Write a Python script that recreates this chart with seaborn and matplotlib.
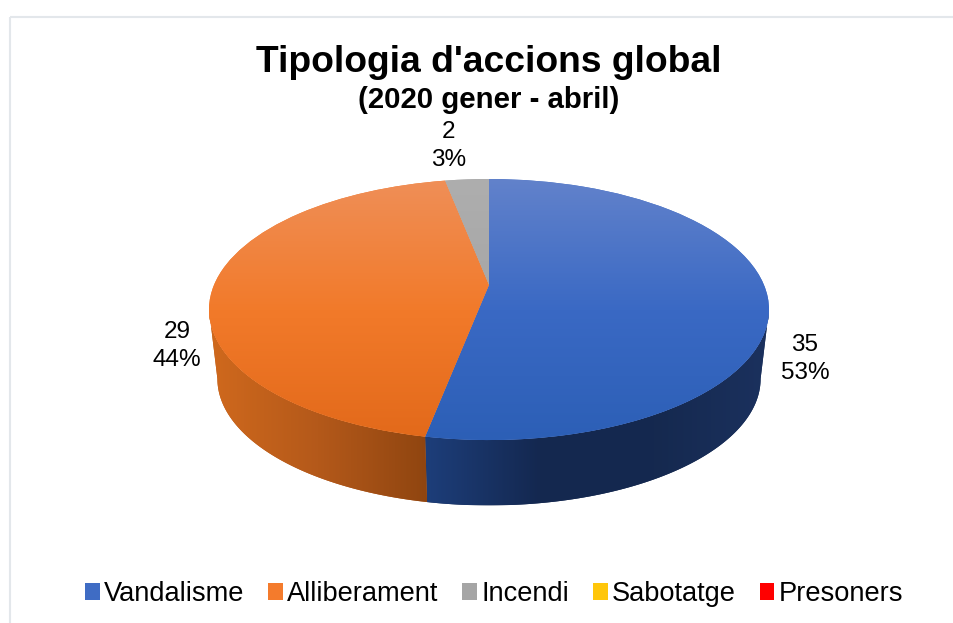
import numpy as np
import matplotlib
matplotlib.use("Agg")
import matplotlib.pyplot as plt
import seaborn as sns
from matplotlib.colors import LinearSegmentedColormap
from matplotlib.patches import Patch, Polygon, Rectangle
from matplotlib.transforms import Transform

# --- data ---
categories = ["Vandalisme", "Alliberament", "Incendi", "Sabotatge", "Presoners"]
values = [35, 29, 2, 0, 0]
colors = ["#3f6cc4", "#f47b2c", "#a5a5a5", "#ffc60a", "#ff0000"]
title = "Tipologia d'accions global"
subtitle = "(2020 gener - abril)"

# vertical shading on the top face, horizontal on the side
top_shades = [
    ["#6282cb", "#3a69c4", "#2c5fb6"],
    ["#ef8f58", "#f27a2a", "#e2691a"],
    ["#aeaeae", "#a6a6a6", "#a0a0a0"],
]
side_shades = [
    ["#1d3e7a", "#142850", "#15294f", "#1b315e"],
    ["#d0691d", "#b4591a", "#8f4510"],
]
label_pos = {0: (805, 359), 1: (177, 346), 2: (449, 146)}

sns.set_theme(style="white")
plt.rcParams["font.family"] = ["Liberation Sans", "DejaVu Sans"]

# perspective of the tilted disc, in picture pixels
APEX = (489, 285)
K = 0.188
A = 125.9
C = 275.0
SHRINK = 0.97
DEPTH = 70


def project(X, Y, bottom=False):
    w = 1 + K * Y
    x = C * X / w
    y = -A * Y / w
    if bottom:
        x = x * SHRINK
        y = y * SHRINK + DEPTH
    return APEX[0] + x, APEX[1] + y


class Tilt(Transform):
    input_dims = 2
    output_dims = 2

    def transform_non_affine(self, values):
        x, y = project(values[:, 0], values[:, 1])
        return np.column_stack([x, y])


fig = plt.figure(figsize=(9.54, 6.23), dpi=100)
ax = fig.add_axes([0, 0, 1, 1])

wedges, _ = ax.pie(values, colors=colors, startangle=90, counterclock=False,
                   wedgeprops={"linewidth": 0})
ax.set_aspect("auto")
ax.set_xlim(0, 954)
ax.set_ylim(623, 0)
ax.axis("off")

tilt = Tilt() + ax.transData
for w in wedges:
    w.set_transform(tilt)
    w.set_zorder(3)

# silhouette of the disc: widest row of the projected ellipse
edge_y = (A / (1 - K) - A / (1 + K)) / 2
Y_edge = -edge_y / (A + K * edge_y)
theta_edge = np.degrees(np.arccos(Y_edge))
front = (theta_edge, 360 - theta_edge)

# --- side wall ---
stops = np.cumsum([0] + values) / sum(values) * 360
for i, shades in enumerate(side_shades):
    a1 = max(stops[i], front[0])
    a2 = min(stops[i + 1], front[1])
    th = np.radians(np.linspace(a1, a2, 200))
    x1, y1 = project(np.sin(th), np.cos(th))
    x2, y2 = project(np.sin(th), np.cos(th), bottom=True)
    pts = np.column_stack([np.r_[x1, x2[::-1]], np.r_[y1, y2[::-1]]])
    poly = Polygon(pts, closed=True, transform=ax.transData, fc=shades[1], ec="none", zorder=2)
    ax.add_patch(poly)
    left, right = pts[:, 0].min(), pts[:, 0].max()
    cmap = LinearSegmentedColormap.from_list("side", shades)
    # shading runs towards the dark side of the disc
    grad = np.linspace(0, 1, 256).reshape(1, -1)
    im = ax.imshow(grad, cmap=cmap, extent=(left, right, pts[:, 1].max(), pts[:, 1].min()),
                   aspect="auto", zorder=2.5)
    im.set_clip_path(poly)

# --- top face ---
for w, shades in zip(wedges, top_shades):
    cmap = LinearSegmentedColormap.from_list("top", shades)
    grad = np.linspace(0, 1, 256).reshape(-1, 1)
    im = ax.imshow(grad, cmap=cmap, extent=(200, 780, 442, 178), aspect="auto", zorder=4)
    im.set_clip_path(w)

ax.set_xlim(0, 954)
ax.set_ylim(623, 0)

# --- outer frame of the chart ---
ax.add_patch(Rectangle((10, 17), 1000, 700, fill=False, ec="#e3e7eb", lw=1.5, zorder=1))

# --- data labels ---
total = sum(values)
for i, v in enumerate(values):
    if v == 0:
        continue
    x, y = label_pos[i]
    ax.text(x, y, f"{v}\n{v / total * 100:.0f}%", ha="center", va="center",
            fontsize=17.5, linespacing=1.3, color="black", zorder=5)

# --- titles ---
ax.text(489, 62, title, ha="center", va="center", fontsize=26.8, fontweight="bold", color="black")
ax.text(489, 100, subtitle, ha="center", va="center", fontsize=21.2, fontweight="bold", color="black")

# --- legend ---
handles = [Patch(facecolor=c, edgecolor="none") for c in colors]
ax.legend(handles, categories, ncol=5, loc="center", bbox_to_anchor=(494 / 954, 1 - 594 / 623),
          frameon=False, fontsize=19.6, handlelength=0.55, handleheight=0.55, labelcolor="black",
          handletextpad=0.14, columnspacing=0.88, borderpad=0, borderaxespad=0)

fig.savefig("out.png", dpi=100)
